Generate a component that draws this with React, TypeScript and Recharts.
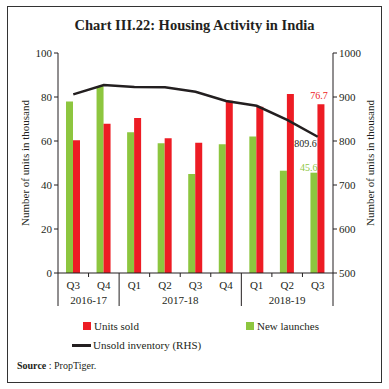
import React from 'react';
import {
  ComposedChart,
  Bar,
  Line,
  XAxis,
  YAxis,
  LabelList,
} from 'recharts';

const quarters = ['Q3', 'Q4', 'Q1', 'Q2', 'Q3', 'Q4', 'Q1', 'Q2', 'Q3'];
const years = ['2016-17', '2016-17', '2017-18', '2017-18', '2017-18', '2017-18', '2018-19', '2018-19', '2018-19'];
const newLaunches = [78, 85, 64, 59, 45, 58.5, 62, 46.5, 45.6];
const unitsSold = [60.3, 67.8, 70.4, 61.3, 59.2, 78.3, 75.6, 81.4, 76.7];
const unsoldInventory = [906, 927, 923, 922, 912, 891, 880, 848, 809.6];

const leftTicks = [0, 20, 40, 60, 80, 100];
const rightTicks = [500, 600, 700, 800, 900, 1000];

const data = quarters.map((q, i) => ({
  q,
  year: years[i],
  launches: newLaunches[i],
  sold: unitsSold[i],
  unsold: unsoldInventory[i],
}));

const FONT = '"Liberation Serif", serif';
const INK = '#231f20';
const RED = '#ed1c24';
const GREEN = '#8dc63f';

const PLOT_LEFT = 58;
const PLOT_RIGHT = 333;
const STEP = (PLOT_RIGHT - PLOT_LEFT) / quarters.length;
const LAST = quarters.length - 1;

// two level x axis: quarter label, boundary ticks, year labels and separators
const QuarterTick = (props: any) => {
  const { x, y, payload } = props;
  const i = payload.index;
  const left = x - STEP / 2;
  const firstOfYear = i === 0 || years[i - 1] !== years[i];
  let groupLen = 0;
  if (firstOfYear) {
    for (let k = i; k < years.length && years[k] === years[i]; k++) groupLen++;
  }
  return (
    <g>
      <text x={x} y={y + 16} textAnchor="middle" fontSize={11} fontFamily={FONT} fill={INK}>
        {payload.value}
      </text>
      {firstOfYear ? (
        <line x1={left} x2={left} y1={y} y2={y + 33} stroke={INK} strokeWidth={1} />
      ) : (
        <line x1={left} x2={left} y1={y} y2={y + 4} stroke={INK} strokeWidth={1} />
      )}
      {i === LAST && (
        <line x1={x + STEP / 2} x2={x + STEP / 2} y1={y} y2={y + 33} stroke={INK} strokeWidth={1} />
      )}
      {firstOfYear && (
        <text
          x={left + (groupLen * STEP) / 2}
          y={y + 31}
          textAnchor="middle"
          fontSize={11}
          fontFamily={FONT}
          fill={INK}
        >
          {years[i]}
        </text>
      )}
    </g>
  );
};

const SoldLabel = (props: any) => {
  const { x, y, width, value, index } = props;
  if (index !== LAST) return null;
  return (
    <text x={x + width / 2 - 2} y={y - 5} textAnchor="middle" fontSize={10} fontFamily={FONT} fill={RED}>
      {value}
    </text>
  );
};

const LaunchLabel = (props: any) => {
  const { x, y, width, value, index } = props;
  if (index !== LAST) return null;
  return (
    <text x={x + width} y={y - 2} textAnchor="end" fontSize={10} fontFamily={FONT} fill={GREEN}>
      {value}
    </text>
  );
};

const UnsoldLabel = (props: any) => {
  const { x, y, value, index } = props;
  if (index !== LAST) return null;
  return (
    <text x={x - 1} y={y + 10} textAnchor="end" fontSize={10} fontFamily={FONT} fill={INK}>
      {value}
    </text>
  );
};

const tickStyle = { fontSize: 11, fontFamily: FONT, fill: INK };

export default function App() {
  return (
    <div style={{ position: 'absolute', left: 0, top: 0, width: 389, height: 389, background: '#fff', fontFamily: FONT, color: INK }}>
      <div
        style={{
          position: 'absolute',
          left: 7,
          top: 6,
          width: 375,
          height: 377,
          border: '1px solid #333',
          boxSizing: 'border-box',
        }}
      />
      <div
        style={{
          position: 'absolute',
          left: 0,
          width: 389,
          top: 17,
          textAlign: 'center',
          fontWeight: 'bold',
          fontSize: 14.5,
        }}
      >
        Chart III.22: Housing Activity in India
      </div>

      <ComposedChart
        width={389}
        height={389}
        data={data}
        margin={{ top: 53, right: 16, bottom: 81, left: 18 }}
        barGap={0}
        barSize={7}
        style={{ position: 'absolute', left: 0, top: 0 }}
      >
        <XAxis
          dataKey="q"
          xAxisId={0}
          height={35}
          interval={0}
          tickLine={false}
          tickSize={0}
          tickMargin={0}
          axisLine={{ stroke: INK }}
          tick={<QuarterTick />}
        />
        <YAxis
          yAxisId="left"
          orientation="left"
          width={40}
          domain={[0, 100]}
          ticks={leftTicks}
          interval={0}
          tickSize={4}
          tickMargin={2}
          axisLine={{ stroke: INK }}
          tickLine={{ stroke: INK }}
          tick={tickStyle}
        />
        <YAxis
          yAxisId="right"
          orientation="right"
          width={40}
          domain={[500, 1000]}
          ticks={rightTicks}
          interval={0}
          tickSize={4}
          tickMargin={2}
          axisLine={{ stroke: INK }}
          tickLine={{ stroke: INK }}
          tick={tickStyle}
        />
        <Bar dataKey="launches" yAxisId="left" fill={GREEN} isAnimationActive={false}>
          <LabelList dataKey="launches" content={<LaunchLabel />} />
        </Bar>
        <Bar dataKey="sold" yAxisId="left" fill={RED} isAnimationActive={false}>
          <LabelList dataKey="sold" content={<SoldLabel />} />
        </Bar>
        <Line
          dataKey="unsold"
          yAxisId="right"
          type="linear"
          stroke={INK}
          strokeWidth={2.5}
          dot={false}
          isAnimationActive={false}
        >
          <LabelList dataKey="unsold" content={<UnsoldLabel />} />
        </Line>
      </ComposedChart>

      {/* axis titles */}
      <div
        style={{
          position: 'absolute',
          left: 25,
          top: 163,
          fontSize: 11,
          whiteSpace: 'nowrap',
          transform: 'translate(-50%, -50%) rotate(-90deg)',
        }}
      >
        Number of units in thousand
      </div>
      <div
        style={{
          position: 'absolute',
          left: 370,
          top: 163,
          fontSize: 11,
          whiteSpace: 'nowrap',
          transform: 'translate(-50%, -50%) rotate(-90deg)',
        }}
      >
        Number of units in thousand
      </div>

      {/* legend */}
      <div style={{ position: 'absolute', left: 83, top: 320, fontSize: 11, display: 'flex', alignItems: 'center' }}>
        <span style={{ width: 8, height: 8, background: RED, display: 'inline-block', marginRight: 3 }} />
        Units sold
      </div>
      <div style={{ position: 'absolute', left: 246, top: 320, fontSize: 11, display: 'flex', alignItems: 'center' }}>
        <span style={{ width: 8, height: 8, background: GREEN, display: 'inline-block', marginRight: 3 }} />
        New launches
      </div>
      <div style={{ position: 'absolute', left: 72, top: 339, fontSize: 11, display: 'flex', alignItems: 'center' }}>
        <span style={{ width: 19, height: 3, background: INK, display: 'inline-block', marginRight: 2 }} />
        Unsold inventory (RHS)
      </div>

      <div style={{ position: 'absolute', left: 17, top: 360, fontSize: 10 }}>
        <b>Source</b> : PropTiger.
      </div>
    </div>
  );
}
